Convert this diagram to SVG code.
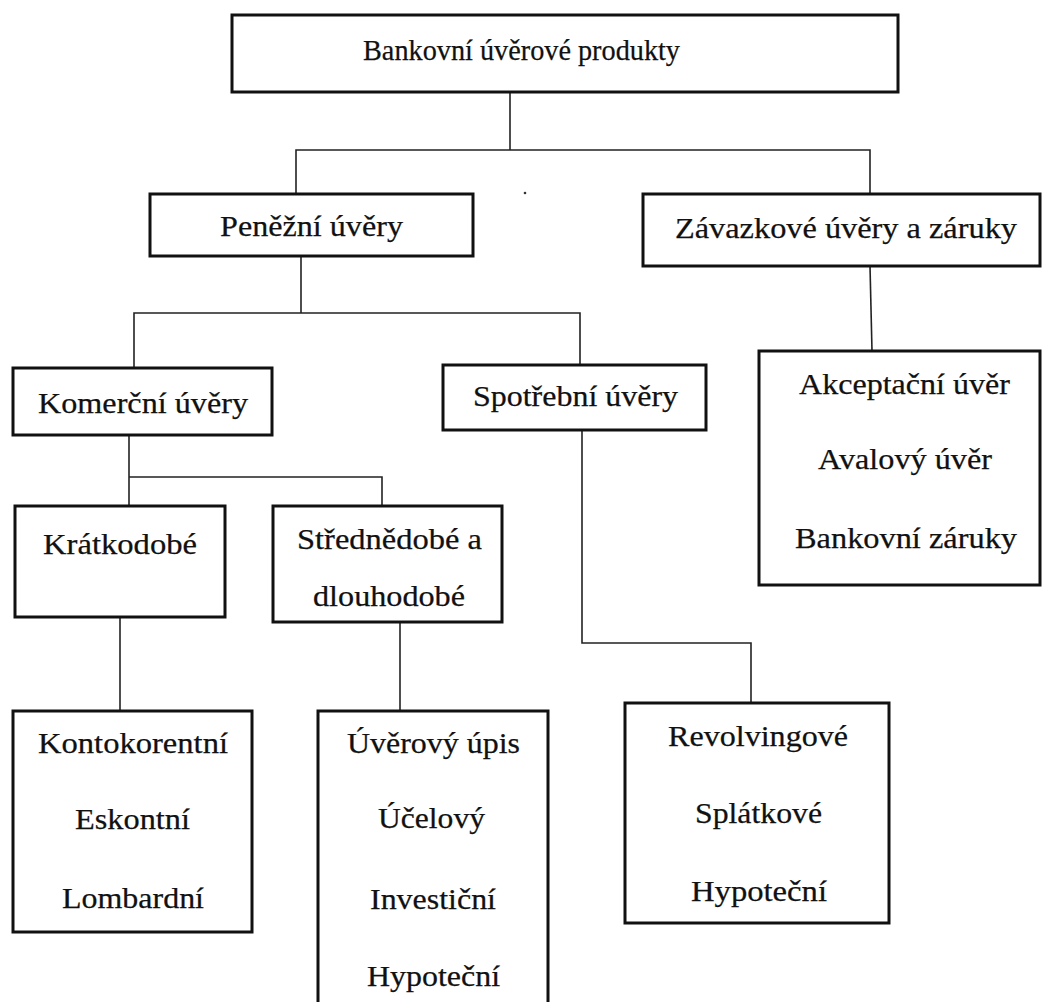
<svg xmlns="http://www.w3.org/2000/svg" width="1043" height="1002" viewBox="0 0 1043 1002">
<style>
.box{fill:#fff;stroke:#111;stroke-width:3}
.con{fill:none;stroke:#222;stroke-width:1.6}
.t{font-family:'Liberation Serif','Times New Roman','DejaVu Serif',serif;font-size:30px;fill:#111;stroke:#111;stroke-width:0.25}
</style>
<rect width="1043" height="1002" fill="#fff"/>
<g id="connectors">
<path class="con" d="M510,92 V150 M296,194 V150 H870 V194"/>
<path class="con" d="M301,256 V313 M134,368 V313 H580 V365"/>
<path class="con" d="M870,266 L872,351"/>
<path class="con" d="M129,435 V506 M129,477 H382 V506"/>
<path class="con" d="M120,617 V711"/>
<path class="con" d="M400,622 V711"/>
<path class="con" d="M582,430 V643 H751 V703"/>
</g>
<circle cx="525" cy="193" r="1.3" fill="#333"/>
<g class="t">
<g id="n-root"><rect class="box" x="232" y="15" width="666" height="77"/>
<text x="363" y="60" textLength="317" lengthAdjust="spacingAndGlyphs">Bankovní úvěrové produkty</text></g>
<g id="n-penezni"><rect class="box" x="150" y="194" width="323" height="62"/>
<text x="220" y="236" textLength="183" lengthAdjust="spacingAndGlyphs">Peněžní úvěry</text></g>
<g id="n-zavazkove"><rect class="box" x="643" y="194" width="397" height="72"/>
<text x="675" y="238" textLength="342" lengthAdjust="spacingAndGlyphs">Závazkové úvěry a záruky</text></g>
<g id="n-komercni"><rect class="box" x="13" y="368" width="259" height="67"/>
<text x="38" y="413" textLength="210" lengthAdjust="spacingAndGlyphs">Komerční úvěry</text></g>
<g id="n-spotrebni"><rect class="box" x="443" y="365" width="263" height="65"/>
<text x="473" y="406" textLength="205" lengthAdjust="spacingAndGlyphs">Spotřební úvěry</text></g>
<g id="n-akceptacni"><rect class="box" x="759" y="351" width="281" height="234"/>
<text x="799" y="394" textLength="211" lengthAdjust="spacingAndGlyphs">Akceptační úvěr</text>
<text x="818" y="469" textLength="174" lengthAdjust="spacingAndGlyphs">Avalový úvěr</text>
<text x="795" y="548" textLength="222" lengthAdjust="spacingAndGlyphs">Bankovní záruky</text></g>
<g id="n-kratkodobe"><rect class="box" x="15" y="506" width="210" height="111"/>
<text x="43" y="554" textLength="154" lengthAdjust="spacingAndGlyphs">Krátkodobé</text></g>
<g id="n-strednedobe"><rect class="box" x="273" y="506" width="229" height="116"/>
<text x="297" y="549" textLength="185" lengthAdjust="spacingAndGlyphs">Střednědobé a</text>
<text x="313" y="606" textLength="152" lengthAdjust="spacingAndGlyphs">dlouhodobé</text></g>
<g id="n-kontokorentni"><rect class="box" x="13" y="711" width="239" height="221"/>
<text x="38" y="753" textLength="190" lengthAdjust="spacingAndGlyphs">Kontokorentní</text>
<text x="75" y="829" textLength="115" lengthAdjust="spacingAndGlyphs">Eskontní</text>
<text x="62" y="908" textLength="142" lengthAdjust="spacingAndGlyphs">Lombardní</text></g>
<g id="n-uverovy"><rect class="box" x="318" y="711" width="230" height="300"/>
<text x="347" y="753" textLength="173" lengthAdjust="spacingAndGlyphs">Úvěrový úpis</text>
<text x="378" y="828" textLength="107" lengthAdjust="spacingAndGlyphs">Účelový</text>
<text x="370" y="909" textLength="126" lengthAdjust="spacingAndGlyphs">Investiční</text>
<text x="367" y="986" textLength="133" lengthAdjust="spacingAndGlyphs">Hypoteční</text></g>
<g id="n-revolvingove"><rect class="box" x="625" y="703" width="264" height="220"/>
<text x="668" y="746" textLength="180" lengthAdjust="spacingAndGlyphs">Revolvingové</text>
<text x="695" y="823" textLength="127" lengthAdjust="spacingAndGlyphs">Splátkové</text>
<text x="691" y="901" textLength="136" lengthAdjust="spacingAndGlyphs">Hypoteční</text></g>
</g>
</svg>
